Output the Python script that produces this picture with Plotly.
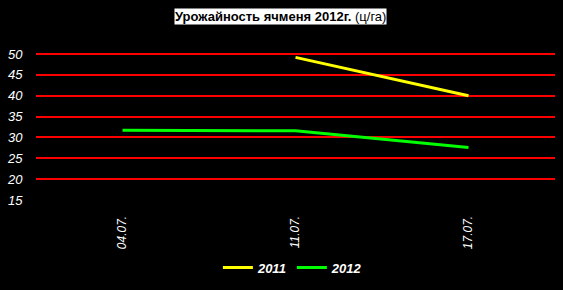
import plotly.graph_objects as go

categories = ["04.07.", "11.07.", "17.07."]
y2011 = [None, 49.2, 40.0]
y2012 = [31.7, 31.6, 27.6]
yticks = [15, 20, 25, 30, 35, 40, 45, 50]

fig = go.Figure()
fig.add_trace(go.Scatter(x=categories, y=y2011, name="2011", mode="lines",
                         line=dict(color="#ffff00", width=3)))
fig.add_trace(go.Scatter(x=categories, y=y2012, name="2012", mode="lines",
                         line=dict(color="#00ff00", width=3)))

fig.update_layout(
    width=563, height=290,
    paper_bgcolor="black", plot_bgcolor="black",
    margin=dict(l=36, r=8, t=53, b=87),
    font=dict(family="Liberation Sans, Arial", color="white"),
    showlegend=True,
    legend=dict(orientation="h", x=0.495, xanchor="center", y=-0.46, yanchor="middle",
                font=dict(size=13, color="white", style="italic", weight="bold"),
                bgcolor="rgba(0,0,0,0)", itemwidth=30, tracegroupgap=0),
    annotations=[dict(text="<b>Урожайность ячменя 2012г.</b> (ц/га)", xref="paper", yref="paper",
                      x=0.472, y=1 + (53 - 16) / 150, yanchor="middle", xanchor="center", showarrow=False,
                      font=dict(size=13, color="black", family="Liberation Sans, Arial"),
                      bgcolor="white", borderpad=0)],
)
fig.update_xaxes(type="category", range=[-0.5, 2.5], showgrid=False, zeroline=False,
                 showline=False, tickangle=-90, ticks="outside", ticklen=10, tickcolor="black",
                 tickfont=dict(size=12, color="white", style="italic"))
fig.update_yaxes(range=[15, 50.25], tickvals=yticks, showgrid=True, gridcolor="#ff0000", gridwidth=1.5,
                 zeroline=False, showline=False, ticks="outside", ticklen=10, tickcolor="black",
                 tickfont=dict(size=13, color="white", style="italic"))
fig.write_html("out.html")
